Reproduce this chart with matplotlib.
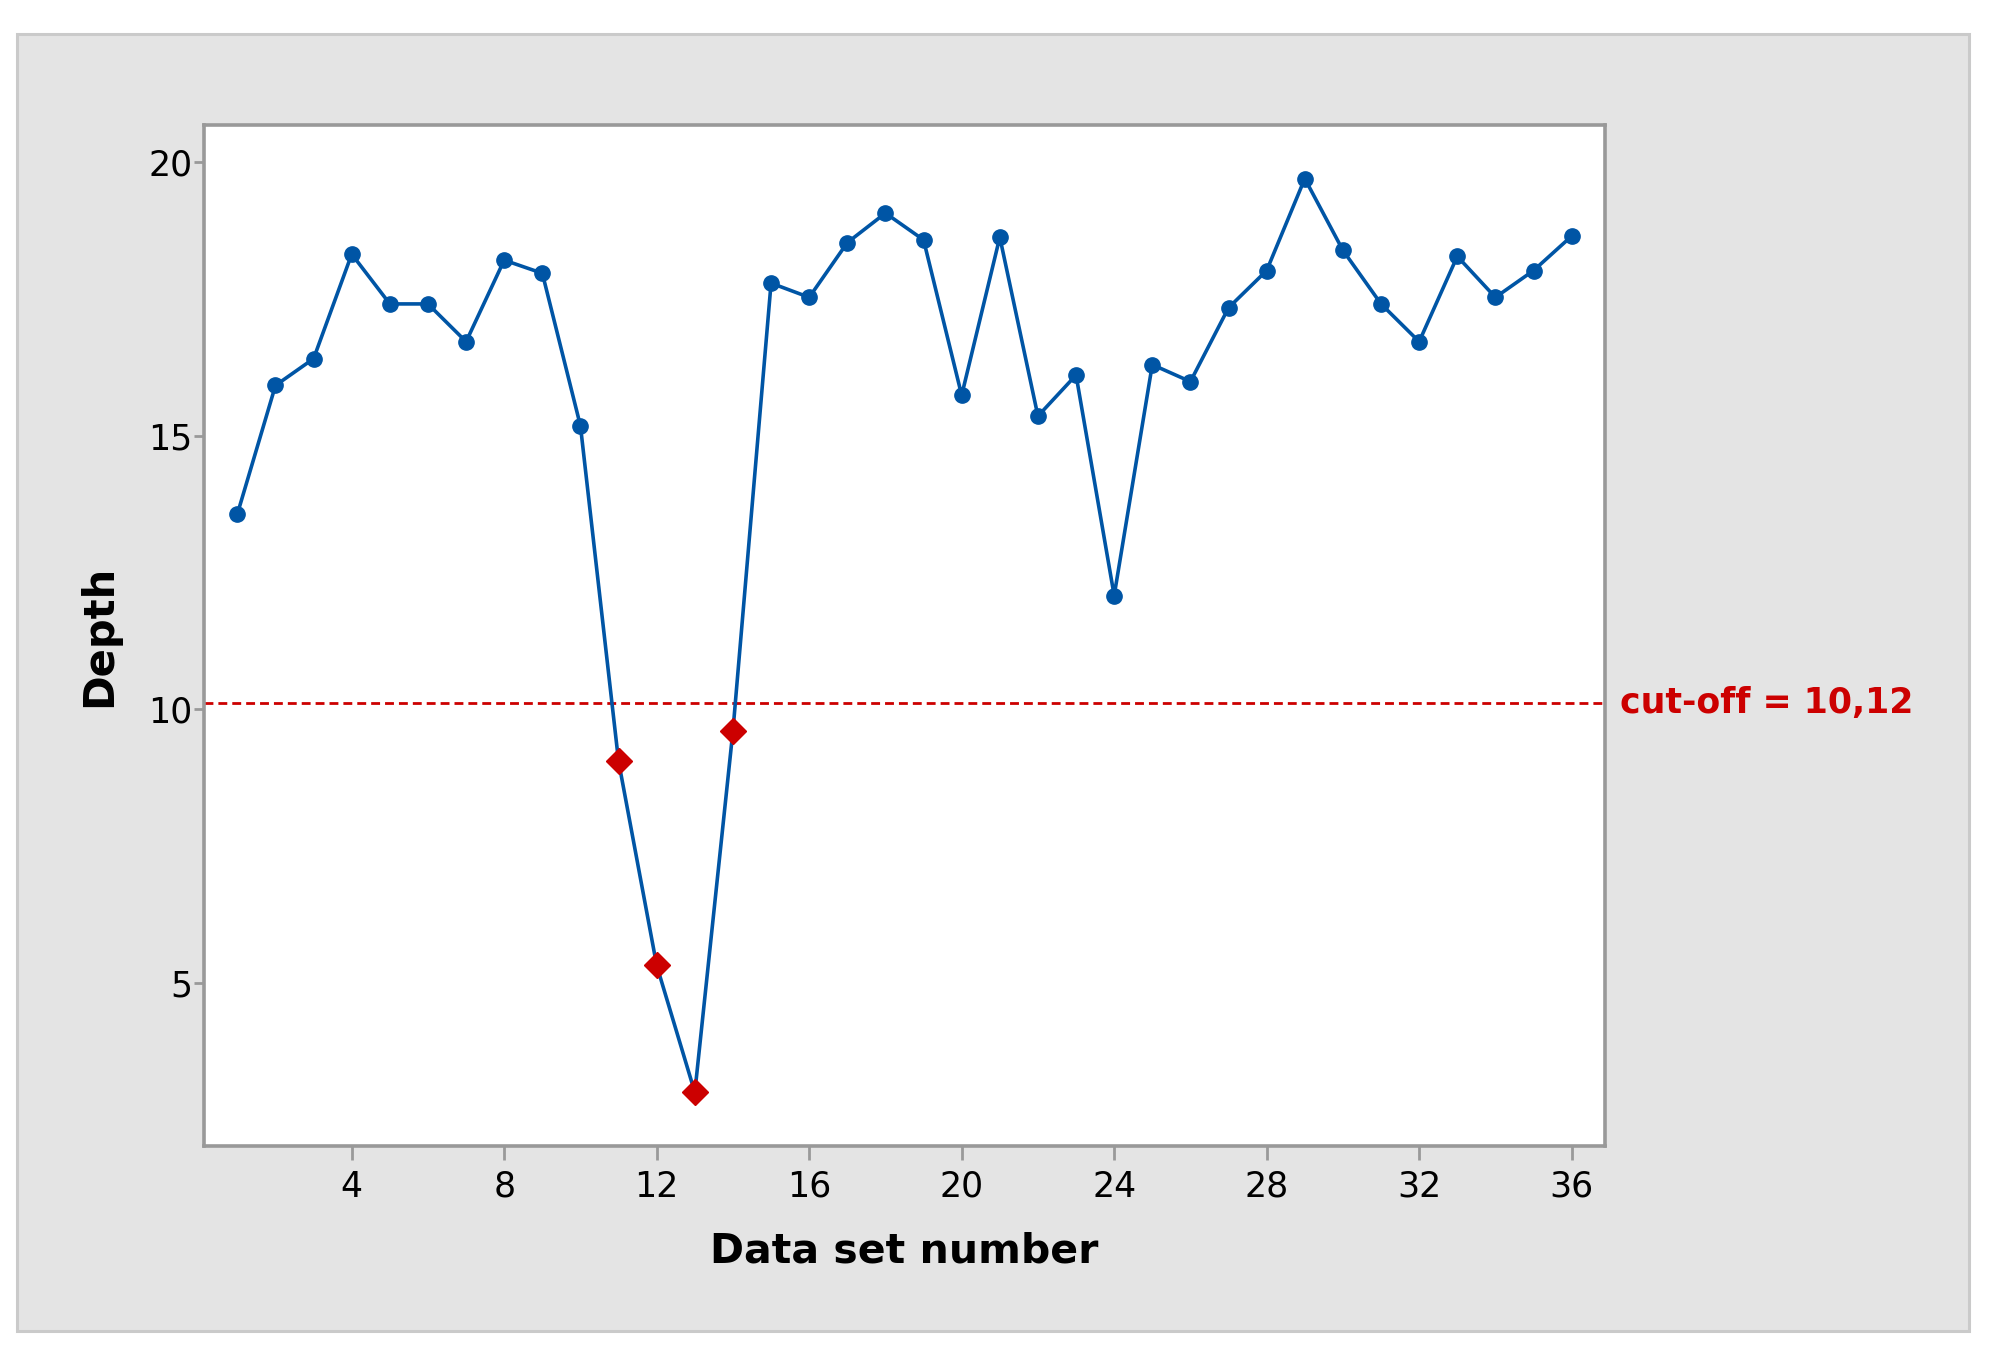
import numpy as np
import matplotlib.pyplot as plt
from matplotlib.patches import Rectangle

# Data
data_set = np.arange(1, 37)
depth = [13.57, 15.92, 16.41, 18.32, 17.41, 17.41, 16.72, 18.21, 17.97, 15.18,
         9.05, 5.32, 3.00, 9.61, 17.79, 17.53, 18.53, 19.07, 18.58, 15.74,
         18.63, 15.36, 16.11, 12.08, 16.30, 15.99, 17.34, 18.02, 19.70, 18.39,
         17.41, 16.72, 18.28, 17.53, 18.02, 18.65]
cutoff = 10.12
x_ticks = [4, 8, 12, 16, 20, 24, 28, 32, 36]
y_ticks = [5, 10, 15, 20]

blue = "#0055a5"
red = "#cc0000"
frame_grey = "#999999"

depth = np.array(depth)
below = depth < cutoff

fig = plt.figure(figsize=(19.99, 13.57), dpi=100, facecolor="white")

# Outer grey panel (behind the axes)
fig.patches.append(Rectangle((17 / 1999, 1 - 1331 / 1357), (1969 - 17) / 1999, (1331 - 34) / 1357,
                             transform=fig.transFigure, facecolor="#e4e4e4",
                             edgecolor="#cacaca", linewidth=2.2, zorder=-10))

ax = fig.add_axes([204 / 1999, 1 - 1146 / 1357, (1605 - 204) / 1999, (1146 - 125) / 1357])
ax.set_facecolor("white")

ax.plot(data_set, depth, color=blue, linewidth=2.6, zorder=2)
ax.plot(data_set[~below], depth[~below], "o", color=blue, markersize=11, zorder=3)
ax.plot(data_set[below], depth[below], "D", color=red, markersize=13, zorder=4)

ax.axhline(cutoff, color=red, linewidth=2.0, dashes=(3.2, 1.8), zorder=1)
ax.text(1.011, cutoff, "cut-off = 10,12", transform=ax.get_yaxis_transform(),
        color=red, fontsize=25, fontweight="bold", va="center", ha="left")

ax.set_xlim(0.125, 36.875)
ax.set_ylim(2.02, 20.68)
ax.set_xticks(x_ticks)
ax.set_yticks(y_ticks)

for s in ax.spines.values():
    s.set_color(frame_grey)
    s.set_linewidth(2.6)

ax.tick_params(axis="x", direction="out", length=10, width=2, color=frame_grey,
               labelsize=25, pad=7)
ax.tick_params(axis="y", direction="out", length=7.5, width=2, color=frame_grey,
               labelsize=25, pad=1)

ax.set_xlabel("Data set number", fontsize=29.5, fontweight="bold", labelpad=20)
ax.set_ylabel("Depth", fontsize=30, fontweight="bold", labelpad=20)

fig.savefig("out.png", dpi=100, facecolor="white")
